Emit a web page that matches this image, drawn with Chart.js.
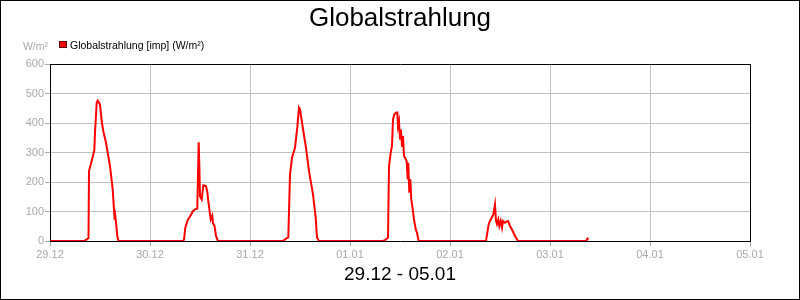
<!DOCTYPE html>
<html>
<head>
<meta charset="utf-8">
<script src="https://cdn.jsdelivr.net/npm/chart.js@4"></script>
<style>
  body { margin: 0; background: #fff; }
  canvas { display: block; }
</style>
</head>
<body>
<canvas id="chart" width="800" height="300"></canvas>
<script>
// x axis: days since 29.12 00:00
const dayLabels = ['29.12', '30.12', '31.12', '01.01', '02.01', '03.01', '04.01', '05.01'];
const yTicks = [0, 100, 200, 300, 400, 500, 600];

const times = [
  0, 0.34, 0.36, 0.385, 0.39, 0.42, 0.443, 0.45, 0.467, 0.477, 0.485, 0.5, 0.517, 0.533, 0.56, 0.6, 0.627, 0.643, 0.647, 0.653, 0.66, 0.673, 0.685,
  1.33, 1.34, 1.353, 1.38, 1.4, 1.43, 1.45, 1.473, 1.487, 1.493, 1.5, 1.517, 1.533, 1.56, 1.573, 1.583, 1.607, 1.623, 1.63, 1.645, 1.66, 1.68,
  2.33, 2.36, 2.383, 2.4, 2.42, 2.45, 2.473, 2.49, 2.5, 2.523, 2.56, 2.59, 2.63, 2.657, 2.67, 2.69,
  3.33, 3.36, 3.38, 3.39, 3.407, 3.42, 3.43, 3.443, 3.46, 3.473, 3.48, 3.49, 3.5, 3.51, 3.52, 3.53, 3.54, 3.557, 3.567, 3.577, 3.583, 3.593, 3.603, 3.613, 3.627, 3.64, 3.657, 3.67, 3.687,
  4.36, 4.387, 4.4, 4.433, 4.45, 4.46, 4.47, 4.483, 4.493, 4.507, 4.52, 4.53, 4.55, 4.58, 4.6, 4.627, 4.65, 4.68,
  5.36, 5.375, 5.385
];
const radiation = [
  0, 0, 4, 10, 237, 275, 307, 367, 469, 476, 472, 463, 406, 372, 333, 254, 175, 90, 72, 85, 63, 17, 0,
  0, 5, 45, 73, 83, 102, 107, 110, 335, 260, 152, 141, 189, 186, 166, 135, 73, 86, 60, 51, 17, 0,
  0, 8, 12, 226, 282, 316, 385, 452, 446, 395, 316, 237, 158, 79, 12, 0,
  0, 5, 12, 254, 299, 322, 412, 429, 435, 436, 389, 406, 344, 378, 322, 356, 288, 277, 270, 209, 265, 164, 209, 141, 107, 73, 40, 28, 0,
  0, 57, 68, 90, 124, 68, 57, 73, 51, 68, 45, 68, 62, 68, 51, 34, 17, 0,
  0, 8, 5
];

const gridGray = '#c0c0c0';
const textGray = '#a8a8a8';
const font = '"Liberation Sans", Arial, sans-serif';

// title, legend, unit and outer frame
const decor = {
  id: 'decor',
  afterDraw(chart) {
    const ctx = chart.ctx;
    ctx.save();
    ctx.fillStyle = '#000';
    ctx.textAlign = 'center';
    ctx.textBaseline = 'alphabetic';
    ctx.font = '26px ' + font;
    ctx.fillText('Globalstrahlung', 400, 26);

    ctx.fillStyle = '#ff0000';
    ctx.fillRect(59, 41, 8, 7);
    ctx.strokeStyle = '#600000';
    ctx.lineWidth = 1;
    ctx.strokeRect(59.5, 41.5, 7, 6);

    ctx.fillStyle = '#000';
    ctx.textAlign = 'left';
    ctx.font = '10.5px ' + font;
    ctx.fillText('Globalstrahlung [imp] (W/m²)', 70, 48.5);

    ctx.fillStyle = textGray;
    ctx.textAlign = 'right';
    ctx.fillText('W/m²', 48, 50);

    ctx.strokeStyle = '#000';
    ctx.strokeRect(0.5, 0.5, 799, 299);
    ctx.restore();
  }
};

new Chart(document.getElementById('chart'), {
  type: 'line',
  data: {
    datasets: [{
      label: 'Globalstrahlung [imp] (W/m²)',
      data: times.map((t, i) => ({ x: t, y: radiation[i] })),
      borderColor: '#ff0000',
      borderWidth: 2,
      pointRadius: 0,
      tension: 0,
      fill: false
    }]
  },
  options: {
    responsive: false,
    animation: false,
    layout: { padding: { left: 0, right: 50, top: 64, bottom: 0 } },
    plugins: {
      legend: { display: false },
      title: { display: false },
      tooltip: { enabled: false }
    },
    scales: {
      x: {
        type: 'linear',
        min: 0,
        max: dayLabels.length - 1,
        afterFit: s => { s.height = 59; },
        afterBuildTicks: s => { s.ticks = dayLabels.map((_, i) => ({ value: i })); },
        ticks: {
          callback: (v, i) => dayLabels[i],
          color: textGray,
          font: { family: font, size: 11 },
          padding: 2,
          maxRotation: 0,
          autoSkip: false
        },
        grid: {
          color: c => (c.tick && c.tick.value === dayLabels.length - 1) ? '#000' : gridGray,
          tickColor: textGray,
          tickLength: 5
        },
        border: { color: '#000' },
        title: {
          display: true,
          text: dayLabels[0] + ' - ' + dayLabels[dayLabels.length - 1],
          color: '#000',
          font: { family: font, size: 19 },
          padding: { top: 0, bottom: 14 }
        }
      },
      y: {
        min: yTicks[0],
        max: yTicks[yTicks.length - 1],
        afterFit: s => { s.width = 50; },
        afterBuildTicks: s => { s.ticks = yTicks.map(v => ({ value: v })); },
        ticks: {
          color: textGray,
          font: { family: font, size: 11 },
          padding: 1
        },
        grid: {
          color: c => (c.tick && c.tick.value === yTicks[yTicks.length - 1]) ? '#000' : gridGray,
          tickColor: textGray,
          tickLength: 5
        },
        border: { color: '#000' }
      }
    }
  },
  plugins: [decor]
});
</script>
</body>
</html>
